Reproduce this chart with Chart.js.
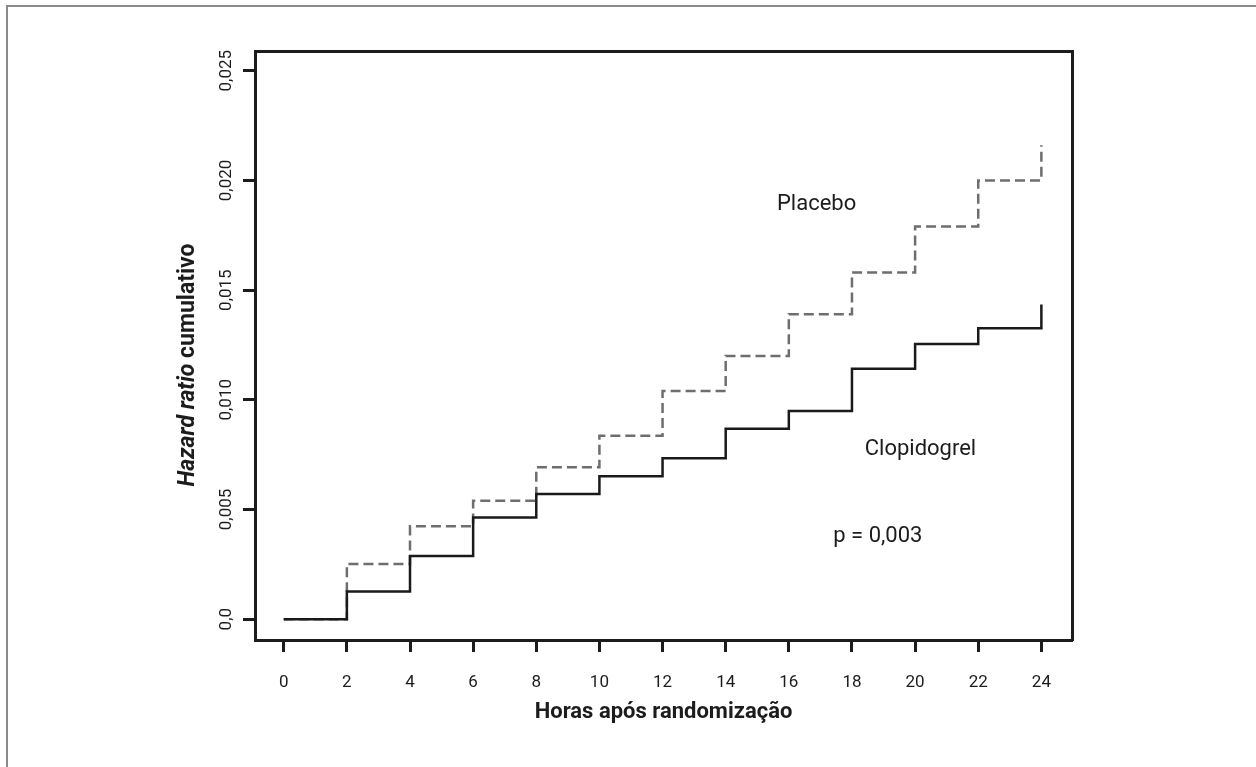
<!DOCTYPE html>
<html>
<head>
<meta charset="utf-8">
<script src="https://cdn.jsdelivr.net/npm/chart.js@4.4.1/dist/chart.umd.min.js"></script>
<style>
  html, body { margin: 0; padding: 0; background: #fff; }
  #wrap { position: relative; width: 1256px; height: 767px; }
  #frame { position: absolute; left: 6px; top: 5px; right: 0; bottom: 0;
           border-top: 2px solid #8a8a8a; border-left: 2px solid #8a8a8a; }
  canvas { position: absolute; left: 0; top: 0; }
</style>
</head>
<body>
<div id="wrap">
  <div id="frame"></div>
  <canvas id="chart" width="1256" height="767"></canvas>
</div>
<script>
// hours after randomisation, one step every 2 h
const hours = [0, 2, 4, 6, 8, 10, 12, 14, 16, 18, 20, 22, 24];
const placebo = [0, 0.00252, 0.00423, 0.0054, 0.00692, 0.00836, 0.0104, 0.0120, 0.0139, 0.0158, 0.0179, 0.0200, 0.0216];
const clopidogrel = [0, 0.00126, 0.00288, 0.00463, 0.00571, 0.00652, 0.00733, 0.00868, 0.00949, 0.01142, 0.01254, 0.01326, 0.01434];

const xTickValues = [0, 2, 4, 6, 8, 10, 12, 14, 16, 18, 20, 22, 24];
const yTickValues = [0, 0.005, 0.010, 0.015, 0.020, 0.025];
const yTickLabels = ['0,0', '0,005', '0,010', '0,015', '0,020', '0,025'];

const xTitle = 'Horas após randomização';

// text labels placed in data coordinates
const notes = [
    { text: 'Placebo', x: 16.88, y: 0.0189 },
    { text: 'Clopidogrel', x: 20.17, y: 0.00773 },
    { text: 'p = 0,003', x: 18.82, y: 0.00378 }
];

const X_MIN = -0.91, X_MAX = 24.97;
const Y_MIN = -0.00095, Y_MAX = 0.0259;
const INK = '#1c1c1c';
const FONT = 'Roboto, "Liberation Sans", sans-serif';

function toPoints(xs, ys) {
    return xs.map((x, i) => ({ x: x, y: ys[i] }));
}

const textPlugin = {
    id: 'textPlugin',
    afterDraw(chart) {
        const ctx = chart.ctx;
        const xs = chart.scales.x;
        const ys = chart.scales.y;
        ctx.save();
        ctx.fillStyle = INK;

        // x tick labels
        ctx.font = '17px ' + FONT;
        ctx.textAlign = 'center';
        ctx.textBaseline = 'middle';
        xTickValues.forEach(v => {
            ctx.fillText(String(v), xs.getPixelForValue(v), 683);
        });

        // y tick labels, rotated
        yTickValues.forEach((v, i) => {
            ctx.save();
            ctx.translate(227, ys.getPixelForValue(v));
            ctx.rotate(-Math.PI / 2);
            ctx.fillText(yTickLabels[i], 0, 0);
            ctx.restore();
        });

        // x title
        ctx.font = 'bold 22px ' + FONT;
        ctx.fillText(xTitle, (chart.chartArea.left + chart.chartArea.right) / 2, 712);

        // y title: italic part + normal part
        const partA = 'Hazard ratio';
        const partB = ' cumulativo';
        const fA = 'italic bold 23px ' + FONT;
        const fB = 'bold 23px ' + FONT;
        ctx.font = fA;
        const wA = ctx.measureText(partA).width;
        ctx.font = fB;
        const wB = ctx.measureText(partB).width;
        ctx.save();
        ctx.translate(188, 365);
        ctx.rotate(-Math.PI / 2);
        ctx.textAlign = 'left';
        ctx.font = fA;
        ctx.fillText(partA, -(wA + wB) / 2, 0);
        ctx.font = fB;
        ctx.fillText(partB, -(wA + wB) / 2 + wA, 0);
        ctx.restore();

        // notes inside the plot
        ctx.font = '22px ' + FONT;
        ctx.textAlign = 'center';
        notes.forEach(n => {
            ctx.fillText(n.text, xs.getPixelForValue(n.x), ys.getPixelForValue(n.y));
        });
        ctx.restore();
    }
};

const frameAxis = {
    type: 'linear',
    ticks: { display: false },
    grid: { display: false },
    border: { display: true, color: INK, width: 3 }
};

new Chart(document.getElementById('chart'), {
    type: 'line',
    data: {
        datasets: [
            {
                label: 'Clopidogrel',
                data: toPoints(hours, clopidogrel),
                borderColor: '#1a1a1a',
                borderWidth: 2.5,
                stepped: 'before',
                pointRadius: 0,
                fill: false
            },
            {
                label: 'Placebo',
                data: toPoints(hours, placebo),
                borderColor: '#6e6e6e',
                borderWidth: 2.5,
                borderDash: [10, 5],
                stepped: 'before',
                pointRadius: 0,
                fill: false
            }
        ]
    },
    options: {
        responsive: false,
        animation: false,
        devicePixelRatio: 1,
        layout: { padding: { left: 243, right: 176, top: 43, bottom: 115 } },
        plugins: {
            legend: { display: false },
            tooltip: { enabled: false }
        },
        scales: {
            x: {
                type: 'linear',
                position: 'bottom',
                min: X_MIN,
                max: X_MAX,
                afterBuildTicks: s => { s.ticks = xTickValues.map(v => ({ value: v })); },
                ticks: { display: false },
                grid: { display: true, drawOnChartArea: false, drawTicks: true, tickLength: 12, tickWidth: 3, tickColor: INK },
                border: { display: true, color: INK, width: 3 }
            },
            y: {
                type: 'linear',
                position: 'left',
                min: Y_MIN,
                max: Y_MAX,
                afterBuildTicks: s => { s.ticks = yTickValues.map(v => ({ value: v })); },
                ticks: { display: false },
                grid: { display: true, drawOnChartArea: false, drawTicks: true, tickLength: 12, tickWidth: 3, tickColor: INK },
                border: { display: true, color: INK, width: 3 }
            },
            xTop: Object.assign({}, frameAxis, { position: 'top', min: X_MIN, max: X_MAX }),
            yRight: Object.assign({}, frameAxis, { position: 'right', min: Y_MIN, max: Y_MAX })
        }
    },
    plugins: [textPlugin]
});
</script>
</body>
</html>
